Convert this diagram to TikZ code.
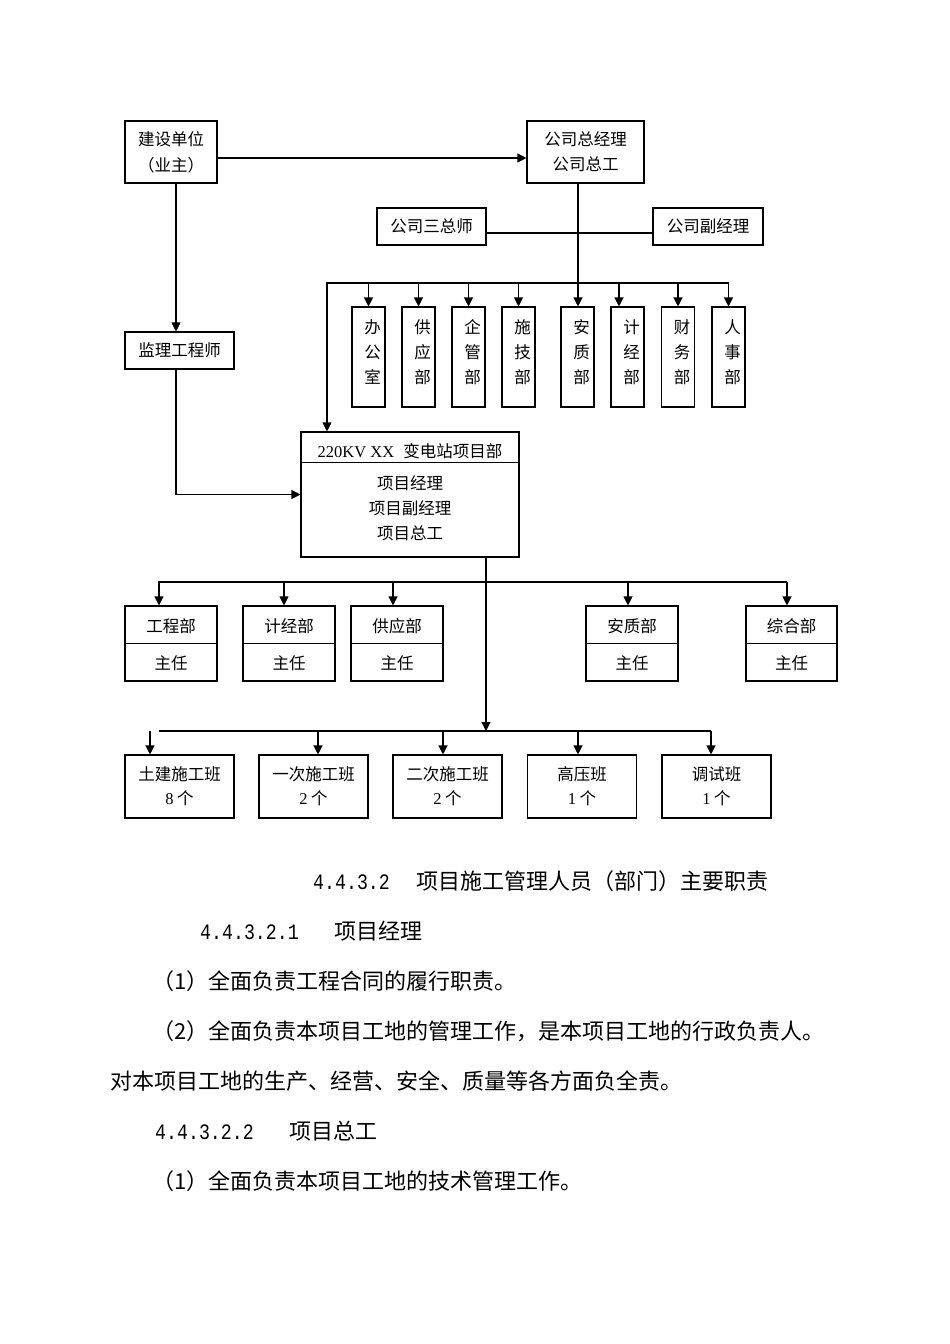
\documentclass[tikz,border=0pt]{standalone}
\usepackage{fontspec}
\usepackage{graphicx}
\setmainfont{Liberation Serif}
\newfontfamily\cjk{Noto Sans CJK SC}
\newfontfamily\monof{Liberation Mono}
\usetikzlibrary{arrows.meta,calc}
\newcommand\lat[1]{{\rmfamily #1}}
\newcommand\numb[1]{{\monof\scalebox{0.83}[1]{#1}}}
\begin{document}
\begin{tikzpicture}[x=1pt,y=-1pt,
  ln/.style={line width=1.1pt},
  arr/.style={ln,-{Triangle[length=9pt,width=9pt]}},
  box/.style={draw,ln,inner sep=0pt,align=center,font=\cjk\fontsize{16.5}{25}\selectfont},
  frame/.style={draw,ln,inner sep=0pt},
  txt/.style={inner sep=0pt,align=center,font=\cjk\fontsize{16.5}{25}\selectfont},
  body/.style={inner sep=0pt,anchor=base west,font=\cjk\fontsize{22}{22}\selectfont},
  numt/.style={inner sep=0pt,anchor=base west,font=\monof\fontsize{22}{22}\selectfont},
]
\fill[white] (0,0) rectangle (950,1344);
\useasboundingbox (0,0) rectangle (950,1344);

% top boxes
\node[box,minimum width=92pt,minimum height=62pt,font=\cjk\fontsize{16.5}{26}\selectfont] (js) at (171,152) {建设单位\\（业主）};
\node[box,minimum width=117pt,minimum height=62pt] (zj) at (585.5,152) {公司总经理\\公司总工};
\node[box,minimum width=109pt,minimum height=37pt] (sz) at (431.5,226.5) {公司三总师};
\node[box,minimum width=110pt,minimum height=37pt] (fj) at (708,226.5) {公司副经理};
\node[box,minimum width=109pt,minimum height=37pt] (jl) at (179.5,350.5) {监理工程师};

% department column boxes
\foreach \n/\x/\a/\b/\c in {1/368.5/办/公/室, 2/418.5/供/应/部, 3/468.5/企/管/部, 4/518.5/施/技/部, 5/577.5/安/质/部, 6/627.5/计/经/部, 7/678/财/务/部, 8/728.5/人/事/部}{
  \node[frame,minimum width=33pt,minimum height=100pt] (d\n) at (\x,357) {};
  \node[txt] (dt\n) at (\x+4,352.5) {\a\\\b\\\c};
}

% project box
\node[frame,minimum width=218pt,minimum height=125pt] (pm) at (410,494.5) {};
\draw[ln] ([yshift=-31pt]pm.north west) -- ([yshift=-31pt]pm.north east);
\node[txt] (pmt) at (410,451) {\lat{220KV XX}\hspace{9pt}变电站项目部};
\node[txt] (pmb) at (410,508) {项目经理\\项目副经理\\项目总工};

% middle boxes
\foreach \n/\x/\w/\lab in {1/171/92/工程部, 2/289/92/计经部, 3/397/92/供应部, 4/632/92/安质部, 5/791.5/91/综合部}{
  \node[frame,minimum width=\w pt,minimum height=75pt] (m\n) at (\x,643.5) {};
  \draw[ln] ([yshift=-38pt]m\n.north west) -- ([yshift=-38pt]m\n.north east);
  \node[txt] (mt\n) at (\x,626) {\lab};
  \node[txt] (mb\n) at (\x,663) {主任};
}

% bottom boxes
\foreach \n/\x/\a/\b in {1/179.5/土建施工班/8, 2/313.5/一次施工班/2, 3/447.5/二次施工班/2, 4/582/高压班/1, 5/716.5/调试班/1}{
  \node[box,minimum width=109pt,minimum height=63pt,font=\cjk\fontsize{16.5}{24}\selectfont] (b\n) at (\x,786.5) {\a\\\lat{\b} 个};
}

% connectors top
\draw[arr] ([yshift=-6pt]js.east) -- ([yshift=-6pt]zj.west);
\draw[arr] ([xshift=5pt]js.south) -- ([xshift=5pt]js.south |- jl.north);
\draw[arr] ([xshift=-3.5pt]jl.south) |- (pm.west);
\draw[ln] ([yshift=-6.5pt]sz.east) -- ([yshift=-6.5pt]fj.west);
\coordinate (bL) at (327,283);
\coordinate (bR) at (728.5,283);
\draw[arr] ([xshift=-7.5pt]zj.south) -- ([xshift=-7.5pt]zj.south |- d5.north);
\draw[arr] (bR) -- (bL) -- (bL |- pm.north);
\foreach \n in {1,2,3,4,7,8} \draw[arr] (d\n.north |- bL) -- (d\n.north);
\draw[arr] ([xshift=-8.5pt]d6.north |- bL) -- ([xshift=-8.5pt]d6.north);

% middle bus
\coordinate (mL) at (159,582);
\coordinate (mR) at (787,582);
\coordinate (nL) at (159,731);
\coordinate (nR) at (711,731);
\draw[arr] ([xshift=76pt]pm.south) -- ([xshift=76pt]pm.south |- nL);
\draw[arr] (mR) -- (mL) -- (mL |- m1.north);
\draw[arr] (mR) -- (mR |- m5.north);
\draw[arr] ([xshift=-5pt]m2.north |- mL) -- ([xshift=-5pt]m2.north);
\draw[arr] ([xshift=-4pt]m3.north |- mL) -- ([xshift=-4pt]m3.north);
\draw[arr] ([xshift=-4pt]m4.north |- mL) -- ([xshift=-4pt]m4.north);

% bottom bus
\draw[ln] (nL) -- (nR);
\draw[arr] (nR) -- (nR |- b5.north);
\draw[arr] ([xshift=-29.5pt]b1.north |- nL) -- ([xshift=-29.5pt]b1.north);
\draw[arr] ([xshift=4.5pt]b2.north |- nL) -- ([xshift=4.5pt]b2.north);
\draw[arr] ([xshift=-4.5pt]b3.north |- nL) -- ([xshift=-4.5pt]b3.north);
\draw[arr] ([xshift=-4pt]b4.north |- nL) -- ([xshift=-4pt]b4.north);

% body text
\node[numt] (h1n) at (313,889) {\numb{4.4.3.2}};
\node[body] (h1t) at (416,889) {项目施工管理人员（部门）主要职责};
\node[numt] (h2n) at (200,939) {\numb{4.4.3.2.1}};
\node[body] (h2t) at (334,939) {项目经理};
\node[body] (p1) at (152,989) {（1）全面负责工程合同的履行职责。};
\node[body] (p2) at (152,1039) {（2）全面负责本项目工地的管理工作，是本项目工地的行政负责人。};
\node[body] (p3) at (110,1089) {对本项目工地的生产、经营、安全、质量等各方面负全责。};
\node[numt] (h3n) at (155,1139) {\numb{4.4.3.2.2}};
\node[body] (h3t) at (289,1139) {项目总工};
\node[body] (p4) at (152,1189) {（1）全面负责本项目工地的技术管理工作。};
\end{tikzpicture}
\end{document}
